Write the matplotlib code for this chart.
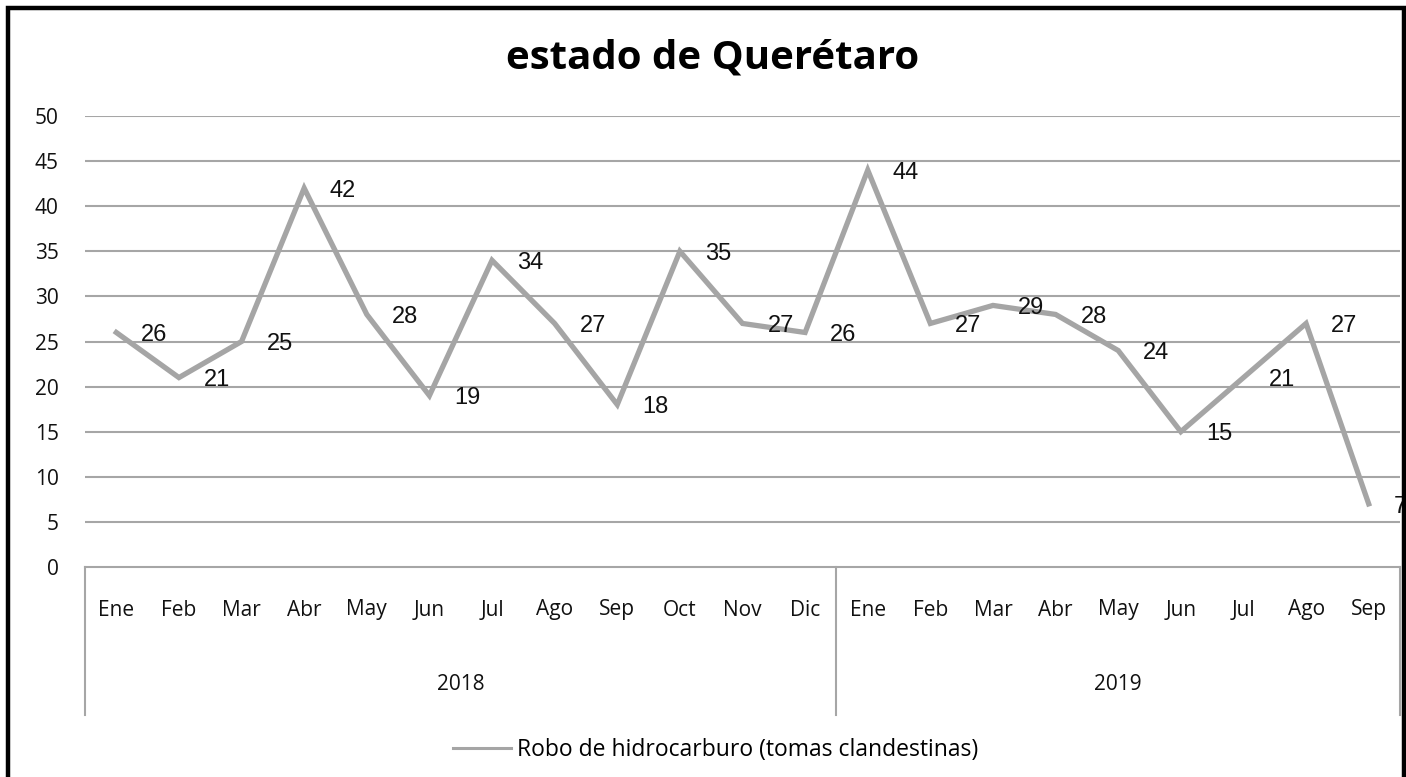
import matplotlib
matplotlib.use("Agg")
import matplotlib.pyplot as plt
from matplotlib.patches import Rectangle
from matplotlib.lines import Line2D
import matplotlib.transforms as mtransforms

title = "estado de Querétaro"
series_name = "Robo de hidrocarburo (tomas clandestinas)"
years = ["2018", "2019"]
months_2018 = ["Ene", "Feb", "Mar", "Abr", "May", "Jun", "Jul", "Ago", "Sep", "Oct", "Nov", "Dic"]
months_2019 = ["Ene", "Feb", "Mar", "Abr", "May", "Jun", "Jul", "Ago", "Sep"]
values_2018 = [26, 21, 25, 42, 28, 19, 34, 27, 18, 35, 27, 26]
values_2019 = [44, 27, 29, 28, 24, 15, 21, 27, 7]
y_ticks = [0, 5, 10, 15, 20, 25, 30, 35, 40, 45, 50]

labels = months_2018 + months_2019
values = values_2018 + values_2019
groups = [(years[0], len(months_2018)), (years[1], len(months_2019))]
x = list(range(len(values)))

W, H = 1406, 777
fig = plt.figure(figsize=(W / 100, H / 100), dpi=100)
fig.patch.set_facecolor("white")

L, R, T, B = 85, 1400, 116, 567
ax = fig.add_axes([L / W, (H - B) / H, (R - L) / W, (B - T) / H])

grid_c = "#A6A6A6"
line_c = "#A5A5A5"
txt_c = "#111111"
calibri = ["Open Sans", "DejaVu Sans"]
tick_fs = 15

ax.set_xlim(-0.5, len(values) - 0.5)
ax.set_ylim(0, 50)
ax.set_yticks(y_ticks)
ax.set_yticklabels([str(v) for v in y_ticks], fontsize=tick_fs, color=txt_c, family=calibri)
ax.tick_params(axis="y", length=0, pad=19)
ax.set_xticks([])
for s in ax.spines.values():
    s.set_visible(False)
for v in y_ticks[1:]:
    ax.axhline(v, color=grid_c, lw=1.5, zorder=1)
ax.axhline(0, color=grid_c, lw=1.5, zorder=1, clip_on=False)

ax.plot(x, values, color=line_c, lw=3.8, zorder=3, solid_joinstyle="miter")

for xi, v in zip(x, values):
    ax.annotate(str(v), (xi, v), xytext=(18, -2), textcoords="offset points",
                ha="left", va="center", fontsize=17, color=txt_c,
                family=["Liberation Sans", "DejaVu Sans"], annotation_clip=False, zorder=4)

trans = mtransforms.blended_transform_factory(ax.transData, ax.transAxes)
ah = B - T
for xi, lab in zip(x, labels):
    ax.text(xi, -(610 - B) / ah, lab, transform=trans, ha="center", va="center",
            fontsize=tick_fs, color=txt_c, family=calibri)

start = 0
bounds = [-0.5]
for name, n in groups:
    center = start + (n - 1) / 2
    ax.text(center, -(685 - B) / ah, name, transform=trans, ha="center", va="center",
            fontsize=tick_fs, color=txt_c, family=calibri)
    start += n
    bounds.append(start - 0.5)
for bx in bounds:
    ax.plot([bx, bx], [0, -(715 - B) / ah], transform=trans, color=grid_c, lw=1.5, clip_on=False)

fig.text(713 / W, 1 - 58 / H, title, fontsize=29, fontweight="bold", family=calibri,
         color="black", ha="center", va="center")

handle = Line2D([0], [0], color=line_c, lw=2.2)
fig.legend([handle], [series_name], loc="center", bbox_to_anchor=(716 / W, (H - 750) / H),
           frameon=False, handlelength=2.5, handletextpad=0.3,
           prop={"family": calibri, "size": 16.5})

fig.add_artist(Rectangle((8 / W, -0.05), (1404 - 8) / W, 1 - 8 / H + 0.05,
                         transform=fig.transFigure, fill=False, edgecolor="black", lw=3.2, clip_on=False))

fig.savefig("out.png", dpi=100, facecolor="white")
